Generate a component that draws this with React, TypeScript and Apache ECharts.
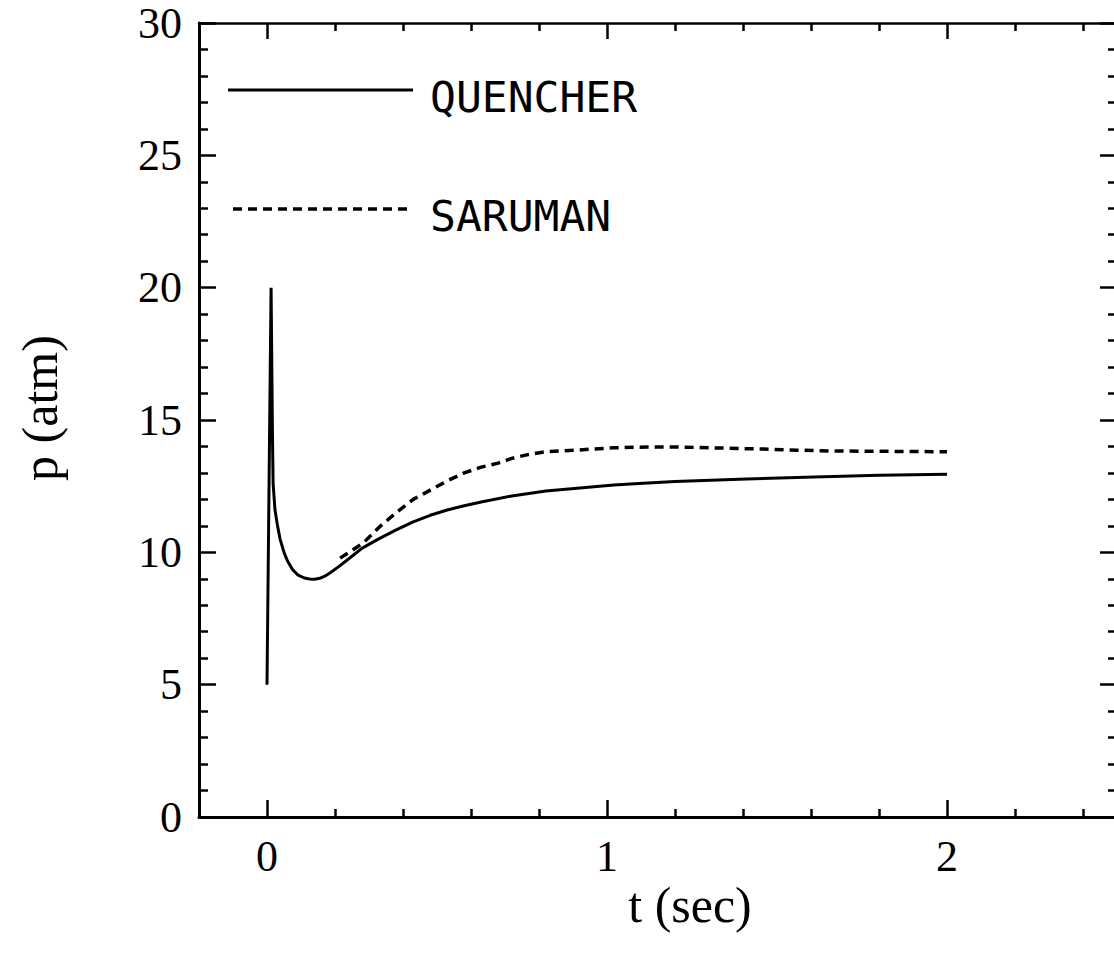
import React, { useEffect, useRef } from "react";
import * as echarts from "echarts";

// QUENCHER (solid) pressure history
const tQuencher = [0, 0.012, 0.016, 0.018, 0.0235, 0.031, 0.0385, 0.05, 0.06, 0.075, 0.09, 0.11, 0.125, 0.14, 0.155, 0.17, 0.185, 0.21, 0.235, 0.28, 0.33, 0.38, 0.43, 0.48, 0.53, 0.58, 0.63, 0.72, 0.82, 0.92, 1.02, 1.12, 1.2, 1.41, 1.61, 1.8, 2.0];
const pQuencher = [5.0, 20.0, 14.5, 12.6, 11.6, 11.0, 10.5, 10.0, 9.68, 9.35, 9.15, 9.03, 8.99, 8.98, 9.02, 9.1, 9.22, 9.45, 9.7, 10.16, 10.52, 10.85, 11.15, 11.4, 11.6, 11.76, 11.9, 12.13, 12.32, 12.43, 12.54, 12.62, 12.68, 12.77, 12.85, 12.91, 12.95];

// SARUMAN (dashed) pressure history
const tSaruman = [0.215, 0.283, 0.33, 0.38, 0.43, 0.48, 0.53, 0.58, 0.63, 0.68, 0.72, 0.77, 0.82, 0.92, 1.02, 1.12, 1.21, 1.46, 1.56, 1.66, 2.0];
const pSaruman = [9.78, 10.35, 10.95, 11.5, 12.0, 12.35, 12.7, 13.0, 13.22, 13.37, 13.55, 13.7, 13.8, 13.87, 13.95, 13.98, 13.98, 13.9, 13.86, 13.83, 13.8];

const xMajorTicks = [0, 1, 2];
const xMinorTicks = [0.2, 0.4, 0.6, 0.8, 1.2, 1.4, 1.6, 1.8, 2.2, 2.4];
const yMajorTicks = [0, 5, 10, 15, 20, 25, 30];
const yMinorTicks = [1, 2, 3, 4, 6, 7, 8, 9, 11, 12, 13, 14, 16, 17, 18, 19, 21, 22, 23, 24, 26, 27, 28, 29];

const seriesNames = ["QUENCHER", "SARUMAN"];
const xTitle = "t (sec)";
const yTitle = "p (atm)";

export default function App() {
  const ref = useRef<HTMLDivElement>(null);
  useEffect(() => {
    if (!ref.current) return;
    const chart = echarts.init(ref.current, undefined, { renderer: "svg" });
    const black = "#000";
    const serif = "Liberation Serif";
    const mono = "DejaVu Sans Mono";

    const xBase = (pos: string, ticks: number[], len: number, showLine: boolean, lineW: number, labels: boolean) => ({
      type: "value",
      min: -0.2,
      max: 2.5,
      position: pos,
      axisLine: { show: showLine, onZero: false, lineStyle: { color: black, width: lineW } },
      axisTick: { show: true, inside: true, length: len, customValues: ticks, lineStyle: { color: black, width: 2.5 } },
      axisLabel: labels
        ? { show: true, customValues: xMajorTicks, fontFamily: serif, fontSize: 44, color: black, margin: 17 }
        : { show: false },
      splitLine: { show: false },
    });
    const yBase = (pos: string, ticks: number[], len: number, showLine: boolean, lineW: number, labels: boolean) => ({
      type: "value",
      min: 0,
      max: 30,
      position: pos,
      axisLine: { show: showLine, onZero: false, lineStyle: { color: black, width: lineW } },
      axisTick: { show: true, inside: true, length: len, customValues: ticks, lineStyle: { color: black, width: 2.5 } },
      axisLabel: labels
        ? { show: true, customValues: yMajorTicks, fontFamily: serif, fontSize: 44, color: black, margin: 17, padding: [10, 0, 0, 0] }
        : { show: false },
      splitLine: { show: false },
    });

    chart.setOption({
      animation: false,
      backgroundColor: "#fff",
      grid: { left: 199, top: 23, width: 918, height: 794, containLabel: false, outerBoundsMode: "none" },
      xAxis: [
        xBase("bottom", xMajorTicks, 17, true, 3, true),
        xBase("bottom", xMinorTicks, 8, false, 3, false),
        xBase("top", xMajorTicks, 16, true, 2.5, false),
        xBase("top", xMinorTicks, 8, false, 2.5, false),
      ],
      yAxis: [
        yBase("left", yMajorTicks, 17, true, 3, true),
        yBase("left", yMinorTicks, 9, false, 3, false),
        yBase("right", yMajorTicks, 17, true, 3, false),
        yBase("right", yMinorTicks, 9, false, 3, false),
      ],
      series: [
        {
          name: seriesNames[0],
          type: "line",
          xAxisIndex: 0,
          yAxisIndex: 0,
          symbol: "none",
          smooth: false,
          data: tQuencher.map((t, i) => [t, pQuencher[i]]),
          lineStyle: { color: black, width: 3 },
        },
        {
          name: seriesNames[1],
          type: "line",
          xAxisIndex: 0,
          yAxisIndex: 0,
          symbol: "none",
          smooth: false,
          data: tSaruman.map((t, i) => [t, pSaruman[i]]),
          lineStyle: { color: black, width: 3.5, type: [9, 6] },
        },
      ],
      graphic: [
        { type: "line", shape: { x1: 228, y1: 90, x2: 413, y2: 90 }, style: { stroke: black, lineWidth: 3 } },
        { type: "text", x: 430, y: 97, style: { text: seriesNames[0], font: `43px "${mono}"`, fill: black, verticalAlign: "middle" } },
        { type: "line", shape: { x1: 233, y1: 209, x2: 413, y2: 209 }, style: { stroke: black, lineWidth: 3.5, lineDash: [9, 6] } },
        { type: "text", x: 430, y: 216, style: { text: seriesNames[1], font: `43px "${mono}"`, fill: black, verticalAlign: "middle" } },
        { type: "text", x: 690, y: 905, style: { text: xTitle, font: `50px "${serif}"`, fill: black, align: "center", verticalAlign: "middle" } },
        { type: "text", x: 40, y: 408, rotation: Math.PI / 2, style: { text: yTitle, font: `50px "${serif}"`, fill: black, align: "center", verticalAlign: "middle" } },
      ],
    });
    return () => chart.dispose();
  }, []);
  return <div ref={ref} style={{ position: "fixed", left: 0, top: 0, width: 1114, height: 960 }} />;
}
